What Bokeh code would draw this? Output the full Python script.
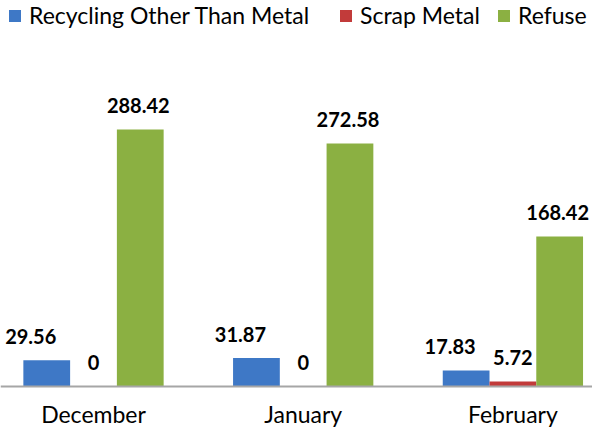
from bokeh.plotting import figure
from bokeh.models import Range1d, Legend, LegendItem, ColumnDataSource, Span
from bokeh.core.properties import value
from bokeh.embed import file_html
from bokeh.resources import INLINE

months = ["December", "January", "February"]
series_names = ["Recycling Other Than Metal", "Scrap Metal", "Refuse"]
recycling = [29.56, 31.87, 17.83]
scrap = [0, 0, 5.72]
refuse = [288.42, 272.58, 168.42]

colors = ["#3e78c6", "#c23b3a", "#8bb042"]
FONT = "Lato"

W, H = 592, 427
p = figure(width=W, height=H, output_backend="svg", toolbar_location=None,
           x_range=Range1d(-0.4435, 2.3796), y_range=Range1d(-46.0, 433.2),
           min_border=0)
p.outline_line_color = None
p.grid.visible = False
p.axis.visible = False
p.background_fill_color = "white"
p.border_fill_color = "white"

# baseline (category axis line)
p.add_layout(Span(location=0, dimension="width", line_color="#a6a6a6", line_width=2))

bw = 0.223
offsets = [-bw, 0.0, bw]
all_vals = [recycling, scrap, refuse]
label_dx = [-16, 0, -2]
renderers = []
for vals, off, col, dx in zip(all_vals, offsets, colors, label_dx):
    xs = [i + off for i in range(len(months))]
    src = ColumnDataSource(dict(x=xs, top=vals, lab=["%g" % v for v in vals]))
    r = p.vbar(x="x", top="top", width=bw, source=src, fill_color=col, line_color=None)
    renderers.append(r)
    p.text(x="x", y="top", text="lab", source=src, text_align="center",
           text_baseline="middle", y_offset=-24, x_offset=dx,
           text_font=value(FONT), text_font_style="bold", text_font_size="20px",
           text_color="black")

# category labels under the baseline
cat_src = ColumnDataSource(dict(x=list(range(len(months))), y=[0] * len(months), lab=months))
p.text(x="x", y="y", text="lab", source=cat_src, text_align="center",
       text_baseline="middle", y_offset=27, text_font=value(FONT),
       text_font_size="23px", text_color="black")

legend_x = [7, 338, 496]
for name, r, lx in zip(series_names, renderers, legend_x):
    lg = Legend(items=[LegendItem(label=name, renderers=[r])], location=(lx, 398),
                orientation="horizontal", border_line_color=None,
                background_fill_alpha=0, padding=0, margin=0,
                glyph_width=15, glyph_height=15, label_standoff=7,
                label_text_font=FONT, label_text_font_size="23px",
                label_text_color="black")
    p.add_layout(lg, "center")

open("out.html", "w").write(file_html(p, INLINE))
